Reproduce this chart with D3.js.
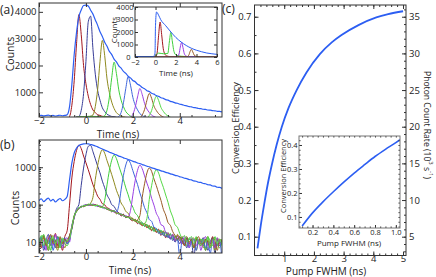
<!DOCTYPE html>
<html>
<head>
<meta charset="utf-8">
<script src="https://cdn.jsdelivr.net/npm/d3@7"></script>
<style>
  body { margin: 0; background: #fff; }
  svg { display: block; }
</style>
</head>
<body>
<svg id="fig" width="436" height="277"></svg>
<script>
// ---- data ----

// common time grid for panels (a) and (b), ns
var timeNs = [
  -2.0,-1.9,-1.8,-1.7,-1.6,-1.5,-1.4,-1.3,-1.2,-1.1,
  -1.0,-0.9,-0.8,-0.7,-0.6,-0.5,-0.4,-0.3,-0.2,-0.1,
  0.0,0.1,0.2,0.3,0.4,0.5,0.6,0.7,0.8,0.9,
  1.0,1.1,1.2,1.3,1.4,1.5,1.6,1.7,1.8,1.9,
  2.0,2.1,2.2,2.3,2.4,2.5,2.6,2.7,2.8,2.9,
  3.0,3.1,3.2,3.3,3.4,3.5,3.6,3.7,3.8,3.9,
  4.0,4.1,4.2,4.3,4.4,4.5,4.6,4.7,4.8,4.9,
  5.0,5.1,5.2,5.3,5.4,5.5,5.6,5.7,5.8];

var countsRed = [
  12,7,15,9,6,13,10,17,8,11,
  6,14,20,97,518,1430,2810,3895,3150,1995,
  1322,858,545,340,244,168,139,106,99,82,
  78,64,69,57,61,50,55,45,48,40,
  37,41,31,35,27,31,24,27,20,24,
  18,22,15,19,13,17,12,16,10,15,
  11,14,8,13,9,12,7,13,10,8,
  13,6,11,9,14,7,12,9,11];
var countsNavy = [
  9,13,6,11,16,8,12,7,14,10,
  8,12,9,15,22,47,78,101,330,950,
  2150,3630,3840,2605,1675,1070,705,425,283,181,
  140,100,90,70,60,53,55,46,49,41,
  42,36,37,30,33,27,29,23,25,20,
  22,17,20,15,18,13,16,11,14,12,
  9,13,11,7,12,10,4,12,9,11,
  8,12,6,10,13,5,11,8,10];
var countsOlive = [
  11,8,14,10,7,12,15,9,6,13,
  10,7,12,14,27,45,71,77,90,88,
  99,96,110,158,472,1115,2150,2935,2370,1498,
  992,635,398,243,168,111,89,66,59,46,
  43,35,38,31,29,32,25,28,21,25,
  19,21,17,20,14,18,13,15,11,16,
  13,9,12,14,8,11,13,6,10,12,
  7,11,14,8,10,6,13,9,12];
var countsGreen = [
  8,12,16,9,11,6,13,10,14,7,
  12,9,8,12,26,51,64,84,85,96,
  93,104,97,101,92,97,86,88,130,338,
  820,1545,2125,1700,1092,708,466,281,184,115,
  86,60,51,38,33,26,30,22,26,19,
  23,18,21,16,19,14,17,12,15,11,
  14,10,12,8,13,11,7,14,9,12,
  10,6,13,11,8,14,9,7,12];
var countsBlue = [
  10,14,7,12,9,15,6,11,13,8,
  11,13,9,11,24,46,70,78,91,89,
  98,95,103,96,99,90,92,82,84,74,
  75,66,70,62,95,250,610,1148,1585,1265,
  812,524,346,205,134,83,61,40,36,25,
  23,19,16,18,14,15,12,14,10,12,
  4,11,9,13,7,10,12,6,11,9,
  13,7,10,5,12,9,8,11,3];
var countsPurple = [
  13,9,11,6,14,10,8,16,9,12,
  7,11,13,10,28,44,73,82,84,95,
  101,97,96,104,98,89,93,87,78,80,
  70,72,62,64,55,58,49,51,47,70,
  180,441,828,1143,913,587,377,250,148,97,
  59,45,29,27,18,17,13,16,11,14,
  12,9,14,10,7,13,11,8,12,6,
  11,14,8,10,12,7,13,9,10];
var countsBrown = [
  7,11,13,8,12,16,9,11,7,14,
  9,12,10,15,23,50,66,79,89,90,
  94,100,98,95,100,94,87,86,83,75,
  71,70,66,59,60,53,54,47,48,42,
  41,37,39,51,157,362,704,957,776,486,
  324,203,129,75,53,33,28,19,15,12,
  14,11,8,13,10,12,7,11,14,9,
  9,12,10,7,13,11,6,12,10];
var countsGreen2 = [
  10,15,8,12,6,11,14,9,12,7,
  13,10,11,12,25,49,69,83,86,93,
  97,98,105,97,94,96,88,84,82,78,
  72,67,68,60,57,56,50,48,45,44,
  39,39,34,34,30,31,43,137,321,630,
  857,694,434,290,181,115,68,47,29,25,
  17,13,15,10,12,14,9,13,11,8,
  12,10,14,7,11,13,9,12,8];
var countsEnvelope = [
  128,142,121,136,150,125,139,118,133,146,
  127,138,165,455,1290,2410,3240,3815,4070,4235,
  4250,4215,4060,3915,3700,3495,3255,3085,2865,2715,
  2525,2405,2240,2135,1988,1902,1778,1708,1598,1537,
  1441,1392,1302,1256,1176,1134,1062,1028,963,932,
  876,849,799,776,729,708,664,646,606,591,
  555,541,508,497,467,458,430,423,397,392,
  368,362,340,336,315,312,292,290,272];

// inset of (a): [time, counts]
var insetEnvelope = [[-2,40],[-0.2,40],[-0.05,300],[0,2500],[0.1,3600],[0.3,3350],[0.5,3000],[1,2500],[1.5,2000],
  [2,1550],[2.5,1200],[3,920],[3.5,700],[4,540],[4.5,420],[5,320],[5.5,260],[6,210]];
var insetRed = [[-2,15],[0,15],[0.15,300],[0.3,1700],[0.45,2800],[0.6,1800],[0.75,700],[0.9,250],[1.1,80],[1.5,30],[6,15]];
var insetGreen = [[-2,10],[-0.1,10],[0.05,150],[0.3,310],[0.8,260],[1.2,280],[1.35,1200],[1.5,1975],[1.65,1200],
  [1.8,450],[2.0,160],[2.5,60],[3.5,25],[6,10]];
var insetPurple = [[-2,10],[2.1,20],[2.3,250],[2.42,800],[2.55,1175],[2.68,750],[2.82,250],[3.0,70],[3.3,25],[6,10]];
var insetBrown = [[-2,10],[3.05,20],[3.25,150],[3.38,450],[3.5,615],[3.63,420],[3.78,150],[3.95,50],[4.3,20],[6,10]];

// panel (c)
var pumpFwhm   = [0.1, 0.2, 0.33, 0.45, 0.58, 0.75, 0.92, 1.15, 1.42, 1.75, 2.2, 2.6, 2.93, 3.5, 4.1, 4.5, 5.0];
var efficiency = [0.068, 0.125, 0.19, 0.245, 0.295, 0.352, 0.4, 0.452, 0.5, 0.548, 0.598, 0.63, 0.65, 0.677, 0.698, 0.707, 0.715];
var insetPump  = [0.1, 0.2, 0.3, 0.4, 0.5, 0.6, 0.7, 0.8, 0.9, 1.0, 1.04];
var insetEff   = [0.062, 0.117, 0.163, 0.205, 0.245, 0.283, 0.318, 0.352, 0.382, 0.41, 0.422];

// tick labels
var ticksTime = [-2, 0, 2, 4];
var ticksTimeInset = [-2, 0, 2, 4, 6];
var ticksCountsLin = [1000, 2000, 3000, 4000];
var ticksCountsInset = [0, 1000, 2000, 3000, 4000];
var ticksCountsLog = [10, 100, 1000];
var ticksPump = [1, 2, 3, 4, 5];
var ticksEff = [0.1, 0.2, 0.3, 0.4, 0.5, 0.6, 0.7];
var ticksRate = [5, 10, 15, 20, 25, 30, 35];
var ticksPumpInset = [0.2, 0.4, 0.6, 0.8, 1.0];
var ticksEffInset = [0.1, 0.2, 0.3, 0.4];

var FONT = "'Open Sans', 'DejaVu Sans', sans-serif";
var INK = "#222";

var svg = d3.select("#fig").attr("font-family", FONT);
var defs = svg.append("defs");

function clipFor(id, x, y) {
  var r = x.range(), s = y.range();
  defs.append("clipPath").attr("id", id).append("rect")
    .attr("x", r[0]).attr("y", s[1]).attr("width", r[1] - r[0]).attr("height", s[0] - s[1]);
  return "url(#" + id + ")";
}

function addAxis(axis, tx, ty, size) {
  var a = svg.append("g").attr("transform", "translate(" + tx + "," + ty + ")").call(axis);
  a.attr("font-family", FONT).attr("font-size", size);
  a.select(".domain").remove();
  a.selectAll("line").attr("stroke", "#333");
  a.selectAll("text").attr("fill", INK);
  return a;
}

function frame(x, y, color) {
  var r = x.range(), s = y.range();
  svg.append("rect").attr("x", r[0]).attr("y", s[1])
    .attr("width", r[1] - r[0]).attr("height", s[0] - s[1])
    .attr("fill", "none").attr("stroke", color || "#333").attr("stroke-width", 1);
}

function label(txt, x, y, size, rot) {
  var t = svg.append("text").attr("x", x).attr("y", y)
    .attr("font-size", size).attr("fill", INK)
    .attr("text-anchor", "middle").attr("dominant-baseline", "central")
    .text(txt);
  if (rot) t.attr("transform", "rotate(" + rot + "," + x + "," + y + ")");
  return t;
}

var pulses = [
  [countsRed, "#a3161d"],
  [countsNavy, "#383d98"],
  [countsOlive, "#8f8a1e"],
  [countsGreen, "#3fd03c"],
  [countsBlue, "#3f66dc"],
  [countsPurple, "#9a3fe4"],
  [countsBrown, "#985a24"],
  [countsGreen2, "#55d946"]
];
var envColor = "#2c5ef2";

// ---------------- panel (a) ----------------
var xA = d3.scaleLinear().domain([-2, 5.8]).range([39, 222]);
var yA = d3.scaleLinear().domain([80, 4330]).range([117, 3]);
var clipA = clipFor("clipA", xA, yA);

var lineA = d3.line()
  .x(function(d, i) { return xA(timeNs[i]); })
  .y(function(d) { return yA(d); })
  .curve(d3.curveMonotoneX);

var gA = svg.append("g").attr("clip-path", clipA);
pulses.forEach(function(p) {
  gA.append("path").datum(p[0]).attr("d", lineA)
    .attr("fill", "none").attr("stroke", p[1]).attr("stroke-width", 1);
});
gA.append("path").datum(countsEnvelope).attr("d", lineA)
  .attr("fill", "none").attr("stroke", envColor).attr("stroke-width", 1.2);

addAxis(d3.axisBottom(xA).tickValues(ticksTime).tickSize(-4).tickPadding(0).tickFormat(d3.format("d")), 0, 117, 9.5);
addAxis(d3.axisBottom(xA).tickValues(d3.range(-1.5, 5.8, 1)).tickSize(-2).tickFormat(""), 0, 117, 9.5);
addAxis(d3.axisTop(xA).tickValues(ticksTime).tickSize(-4).tickFormat(""), 0, 3, 9.5);
addAxis(d3.axisLeft(yA).tickValues(ticksCountsLin).tickSize(-4).tickPadding(2.5).tickFormat(d3.format("d")), 39, 0, 9.5);
addAxis(d3.axisLeft(yA).tickValues(d3.range(500, 4330, 1000)).tickSize(-2).tickFormat(""), 39, 0, 9.5);
frame(xA, yA);

label("Counts", 10, 54, 10.5, -90);
label("Time (ns)", 118, 133.5, 10);

// inset of (a)
var xIA = d3.scaleLinear().domain([-2, 6]).range([135, 217]);
var yIA = d3.scaleLinear().domain([0, 4000]).range([57, 7]);
var clipIA = clipFor("clipIA", xIA, yIA);
svg.append("rect").attr("x", 135).attr("y", 7).attr("width", 82).attr("height", 50).attr("fill", "#fff");
var lineIA = d3.line()
  .x(function(d) { return xIA(d[0]); })
  .y(function(d) { return yIA(d[1]); })
  .curve(d3.curveMonotoneX);
var gIA = svg.append("g").attr("clip-path", clipIA);
[[insetRed, "#a3161d"], [insetGreen, "#3fd03c"], [insetPurple, "#9a3fe4"], [insetBrown, "#985a24"], [insetEnvelope, envColor]]
  .forEach(function(p) {
    gIA.append("path").datum(p[0]).attr("d", lineIA)
      .attr("fill", "none").attr("stroke", p[1]).attr("stroke-width", 1);
  });
addAxis(d3.axisBottom(xIA).tickValues(ticksTimeInset).tickSize(-3).tickPadding(2.5).tickFormat(d3.format("d")), 0, 57, 7.5);
addAxis(d3.axisTop(xIA).tickValues(ticksTimeInset).tickSize(-3).tickFormat(""), 0, 7, 7.5);
var insetLeft = addAxis(d3.axisLeft(yIA).tickValues(ticksCountsInset).tickSize(-3).tickPadding(1.5).tickFormat(d3.format("d")), 135, 0, 7.5);
// nudge the "0" left so it clears the "-2" just below it
insetLeft.selectAll("text").filter(function(d) { return d === 0; }).attr("dx", -3);
addAxis(d3.axisRight(yIA).tickValues(ticksCountsInset).tickSize(-3).tickFormat(""), 217, 0, 7.5);
frame(xIA, yIA);
label("Counts", 113, 30, 8, -90);
label("Time (ns)", 176, 72, 8);

// ---------------- panel (b) ----------------
var xB = d3.scaleLinear().domain([-2, 5.8]).range([39, 222]);
var yB = d3.scaleLog().domain([5.1, 5350]).range([253, 140]);
var clipB = clipFor("clipB", xB, yB);
var lineB = d3.line()
  .x(function(d, i) { return xB(timeNs[i]); })
  .y(function(d) { return yB(d); })
  .curve(d3.curveMonotoneX);
var gB = svg.append("g").attr("clip-path", clipB);
pulses.forEach(function(p) {
  gB.append("path").datum(p[0]).attr("d", lineB)
    .attr("fill", "none").attr("stroke", p[1]).attr("stroke-width", 1);
});
gB.append("path").datum(countsEnvelope).attr("d", lineB)
  .attr("fill", "none").attr("stroke", envColor).attr("stroke-width", 1.2);

addAxis(d3.axisBottom(xB).tickValues(ticksTime).tickSize(-4).tickPadding(0.5).tickFormat(d3.format("d")), 0, 253, 9.5);
addAxis(d3.axisBottom(xB).tickValues(d3.range(-1.5, 5.8, 1)).tickSize(-2).tickFormat(""), 0, 253, 9.5);
addAxis(d3.axisTop(xB).tickValues(ticksTime).tickSize(-4).tickFormat(""), 0, 140, 9.5);
addAxis(d3.axisLeft(yB).tickValues(ticksCountsLog).tickSize(-4).tickPadding(2.5).tickFormat(d3.format("d")), 39, 0, 9.5);
addAxis(d3.axisLeft(yB).tickValues(yB.ticks()).tickSize(-2).tickFormat(""), 39, 0, 9.5);
frame(xB, yB);

label("Counts", 15, 208, 10.5, -90);
label("Time (ns)", 130, 270, 10);

// ---------------- panel (c) ----------------
var xC = d3.scaleLinear().domain([0, 5.1]).range([254.5, 406]);
var yC = d3.scaleLinear().domain([0.0487, 0.732]).range([255.5, 5]);
var yR = d3.scaleLinear().domain([0.0487 * 50, 0.732 * 50]).range([255.5, 5]);
var clipC = clipFor("clipC", xC, yC);

var lineC = d3.line()
  .x(function(d, i) { return xC(pumpFwhm[i]); })
  .y(function(d) { return yC(d); })
  .curve(d3.curveMonotoneX);
svg.append("g").attr("clip-path", clipC).append("path").datum(efficiency).attr("d", lineC)
  .attr("fill", "none").attr("stroke", envColor).attr("stroke-width", 1.8);

addAxis(d3.axisBottom(xC).tickValues(ticksPump).tickSize(-4).tickPadding(0).tickFormat(d3.format("d")), 0, 255.5, 9.5);
addAxis(d3.axisBottom(xC).tickValues(d3.range(0.2, 5.05, 0.2)).tickSize(-2).tickFormat(""), 0, 255.5, 9.5);
addAxis(d3.axisTop(xC).tickValues(ticksPump).tickSize(-4).tickFormat(""), 0, 5, 9.5);
addAxis(d3.axisTop(xC).tickValues(d3.range(0.2, 5.05, 0.2)).tickSize(-2).tickFormat(""), 0, 5, 9.5);
addAxis(d3.axisLeft(yC).tickValues(ticksEff).tickSize(-4).tickPadding(3).tickFormat(d3.format(".1f")), 254.5, 0, 9.5);
addAxis(d3.axisLeft(yC).tickValues(d3.range(0.05, 0.73, 0.05)).tickSize(-2).tickFormat(""), 254.5, 0, 9.5);
addAxis(d3.axisRight(yR).tickValues(ticksRate).tickSize(-4).tickPadding(3).tickFormat(d3.format("d")), 406, 0, 9.5);
addAxis(d3.axisRight(yR).tickValues(d3.range(3, 36.5, 1)).tickSize(-2).tickFormat(""), 406, 0, 9.5);
frame(xC, yC);

label("Conversion Efficiency", 235, 128, 9.3, -90);
label("Pump FWHM (ns)", 326, 271, 10);
var rt = svg.append("text").attr("x", 427).attr("y", 125)
  .attr("font-size", 8.6).attr("fill", INK)
  .attr("text-anchor", "middle").attr("dominant-baseline", "central")
  .attr("transform", "rotate(90,427,125)");
rt.append("tspan").text("Photon Count Rate (10");
rt.append("tspan").attr("font-size", 6).attr("dy", -3.5).text("3");
rt.append("tspan").attr("dy", 3.5).text(" s");
rt.append("tspan").attr("font-size", 6).attr("dy", -3.5).text("-1");
rt.append("tspan").attr("dy", 3.5).text(")");

// inset of (c)
var xIC = d3.scaleLinear().domain([0.07, 1.04]).range([299, 400]);
var yIC = d3.scaleLinear().domain([0.054, 0.4375]).range([228, 136]);
var clipIC = clipFor("clipIC", xIC, yIC);
svg.append("rect").attr("x", 299).attr("y", 136).attr("width", 101).attr("height", 92).attr("fill", "#fff");
var lineIC = d3.line()
  .x(function(d, i) { return xIC(insetPump[i]); })
  .y(function(d) { return yIC(d); })
  .curve(d3.curveMonotoneX);
svg.append("g").attr("clip-path", clipIC).append("path").datum(insetEff).attr("d", lineIC)
  .attr("fill", "none").attr("stroke", envColor).attr("stroke-width", 1.6);
addAxis(d3.axisBottom(xIC).tickValues(ticksPumpInset).tickSize(-3).tickPadding(1.5).tickFormat(d3.format(".1f")), 0, 228, 7.5);
addAxis(d3.axisBottom(xIC).tickValues(d3.range(0.1, 1.04, 0.05)).tickSize(-1.5).tickFormat(""), 0, 228, 7.5);
addAxis(d3.axisTop(xIC).tickValues(d3.range(0.1, 1.04, 0.05)).tickSize(-1.5).tickFormat(""), 0, 136, 7.5);
addAxis(d3.axisLeft(yIC).tickValues(ticksEffInset).tickSize(-3).tickPadding(1.5).tickFormat(d3.format(".1f")), 299, 0, 7.5);
addAxis(d3.axisLeft(yIC).tickValues(d3.range(0.06, 0.435, 0.02)).tickSize(-1.5).tickFormat(""), 299, 0, 7.5);
addAxis(d3.axisRight(yIC).tickValues(d3.range(0.06, 0.435, 0.02)).tickSize(-1.5).tickFormat(""), 400, 0, 7.5);
frame(xIC, yIC, "#777");
label("Conversion Efficiency", 283, 176, 7.5, -90);
label("Pump FWHM (ns)", 349, 242.5, 8);

// panel letters
svg.append("text").attr("x", 0).attr("y", 14).attr("font-size", 12).attr("fill", INK).text("(a)");
svg.append("text").attr("x", 0).attr("y", 149).attr("font-size", 12).attr("fill", INK).text("(b)");
svg.append("text").attr("x", 222).attr("y", 13).attr("font-size", 12).attr("fill", INK).text("(c)");
</script>
</body>
</html>
